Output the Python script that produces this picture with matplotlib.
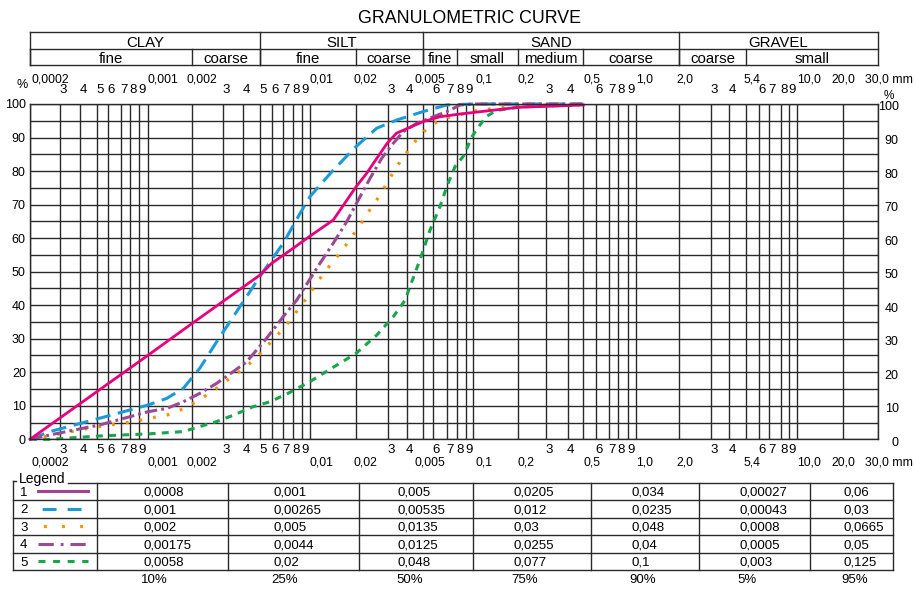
import numpy as np
import matplotlib
matplotlib.use('Agg')
import matplotlib.pyplot as plt
from matplotlib.ticker import NullLocator

plt.rcParams['font.family'] = ['Liberation Sans', 'DejaVu Sans']
plt.rcParams['lines.scale_dashes'] = False

# grain size curves: diameter (mm) vs passing (%)
d1 = [0.0002, 0.001, 0.002, 0.005, 0.006, 0.008, 0.01, 0.0142, 0.02, 0.0229, 0.0261,
      0.0298, 0.0343, 0.05, 0.0648, 0.083, 0.2, 0.5]
p1 = [0, 25, 34.6, 49, 52.5, 57, 60.6, 65.4, 75.3, 79.3, 83.8, 88.3, 91.3, 94.7, 96.2,
      97, 99, 99.7]

d2 = [0.0002, 0.000261, 0.000522, 0.001, 0.001344, 0.00174, 0.00221, 0.00277, 0.00348,
      0.00456, 0.00526, 0.007, 0.0088, 0.01, 0.0142, 0.02, 0.0261, 0.0343, 0.05, 0.07,
      0.1, 0.5]
p2 = [0, 2.3, 6.3, 10.2, 12.2, 15.2, 21.2, 29.1, 36.6, 45.5, 50, 58.5, 67.4, 72.4, 80.3,
      87.3, 92.8, 95.2, 97.7, 99.7, 100, 100]

d3 = [0.0002, 0.000259, 0.000416, 0.000522, 0.00067, 0.00085, 0.001036, 0.001344,
      0.001766, 0.00218, 0.00265, 0.00317, 0.00392, 0.00467, 0.00553, 0.00653, 0.00757,
      0.00871, 0.00991, 0.01133, 0.01331, 0.01572, 0.01827, 0.02104, 0.02371, 0.02684,
      0.0299, 0.03378, 0.03963, 0.0458, 0.055, 0.066, 0.0816, 0.1042, 0.2, 0.5]
p3 = [0, 1.0, 3.0, 3.8, 4.6, 5.3, 6.3, 7.2, 9.2, 11.7, 14.5, 17.5, 20.7, 23.9, 27.6,
      31.3, 35.1, 39.2, 43.3, 47.3, 51.5, 55.5, 59.6, 63.9, 68.2, 72.4, 76.6, 80.8, 85.3,
      89.3, 93.1, 95.5, 96.7, 98, 99.5, 100]

d4 = [0.0002, 0.000261, 0.000522, 0.001, 0.001344, 0.00174, 0.00221, 0.00277, 0.00348,
      0.00418, 0.00553, 0.007, 0.00839, 0.00978, 0.01163, 0.0142, 0.01739, 0.0206,
      0.02392, 0.02778, 0.03267, 0.03791, 0.0458, 0.06, 0.07, 0.0834, 0.1, 0.5]
p4 = [0, 1.3, 4.3, 8.2, 9.2, 11.2, 13.7, 16.7, 20.2, 23.1, 30.1, 36.6, 41.5, 47, 52.5,
      58.5, 64.9, 71.4, 77.8, 83.8, 88.3, 91.7, 94.2, 96.2, 97.7, 99.7, 100, 100]

d5 = [0.0002, 0.000261, 0.000522, 0.001, 0.00174, 0.00221, 0.00277, 0.00348, 0.00456,
      0.00584, 0.00732, 0.01, 0.0142, 0.02, 0.0261, 0.03267, 0.03906, 0.04186, 0.0481,
      0.0567, 0.0648, 0.07, 0.0782, 0.0881, 0.0967, 0.107, 0.1218, 0.1422, 0.1747,
      0.2246, 0.3427, 0.4703]
p5 = [0, 0, 1.0, 1.6, 2.3, 3.8, 5.3, 7.2, 9.7, 11.2, 13.5, 17.2, 21.5, 25.6, 31.1, 36.6,
      41.5, 45.5, 53.5, 62.4, 69.4, 75.3, 81.3, 84.8, 89.8, 92.8, 96.2, 98, 98.7, 99.2,
      99.5, 99.7]

# table values
d10 = ['0,0008', '0,001', '0,002', '0,00175', '0,0058']
d25 = ['0,001', '0,00265', '0,005', '0,0044', '0,02']
d50 = ['0,005', '0,00535', '0,0135', '0,0125', '0,048']
d75 = ['0,0205', '0,012', '0,03', '0,0255', '0,077']
d90 = ['0,034', '0,0235', '0,048', '0,04', '0,1']
d5p = ['0,00027', '0,00043', '0,0008', '0,0005', '0,003']
d95 = ['0,06', '0,03', '0,0665', '0,05', '0,125']
col_titles = ['10%', '25%', '50%', '75%', '90%', '5%', '95%']

# axis labels
num_d = [0.0002, 0.001, 0.002, 0.01, 0.02, 0.05, 0.1, 0.2, 0.5, 1, 2, 5, 10, 20, 30]
num_txt = ['0,0002', '0,001', '0,002', '0,01', '0,02', '0,005', '0,1', '0,2', '0,5',
           '1,0', '2,0', '5,4', '10,0', '20,0', '30,0 mm']
classes = [('CLAY', 0.0002, 0.005), ('SILT', 0.005, 0.05), ('SAND', 0.05, 2),
           ('GRAVEL', 2, 30)]
subclasses = [('fine', 0.0002, 0.002), ('coarse', 0.002, 0.005), ('fine', 0.005, 0.02),
              ('coarse', 0.02, 0.05), ('fine', 0.05, 0.08), ('small', 0.08, 0.2),
              ('medium', 0.2, 0.5), ('coarse', 0.5, 2), ('coarse', 2, 5),
              ('small', 5, 30)]

# hand-drawn log paper: grid diameters and where they sit (pixels)
GRID_D = [0.0002, 0.0003, 0.0004, 0.0005, 0.0006, 0.0007, 0.0008, 0.0009, 0.001,
          0.002, 0.003, 0.004, 0.005, 0.006, 0.007, 0.008, 0.009, 0.01,
          0.02, 0.03, 0.04, 0.05, 0.06, 0.07, 0.08, 0.09, 0.1,
          0.2, 0.3, 0.4, 0.5, 0.6, 0.7, 0.8, 0.9, 1,
          2, 3, 4, 5, 6, 7, 8, 9, 10, 20, 30]
GRID_PX = [30, 60.3, 80.3, 97.3, 108.3, 120.7, 130, 138.7, 147.7,
           192.3, 222.7, 243.3, 260, 271.7, 283.3, 293.3, 301.7, 310,
           356, 387.7, 406.7, 422.7, 433.3, 446.7, 456.7, 466, 473.3,
           518, 546, 567.7, 583.3, 596, 608.7, 618, 628, 636,
           679.3, 711.3, 729.3, 746, 758.7, 769.3, 781.3, 789.3, 797.3, 842.7, 877.7]
LOGD = np.log10(GRID_D)


def fwd(d):
    d = np.clip(np.asarray(d, dtype=float), 1e-12, None)
    return np.interp(np.log10(d), LOGD, GRID_PX)


def inv(p):
    return 10 ** np.interp(np.asarray(p, dtype=float), GRID_PX, LOGD)


W, H = 916, 589


def box(l, t, r, b):
    return [l / W, 1 - b / H, (r - l) / W, (b - t) / H]


LC = '#2a2a2a'
fig = plt.figure(figsize=(W / 100, H / 100), dpi=100)

ov = fig.add_axes([0, 0, 1, 1])
ov.set_xlim(0, W)
ov.set_ylim(H, 0)
ov.axis('off')

# main chart
ax = fig.add_axes(box(30, 104, 877.7, 439.3))
ax.set_xscale('function', functions=(fwd, inv))
ax.set_xlim(0.0002, 30)
ax.set_ylim(0, 100)
ax.set_xticks(GRID_D)
ax.xaxis.set_minor_locator(NullLocator())
ax.set_xticklabels([])
ax.set_yticks(np.arange(0, 101, 10))
ax.set_yticks(np.arange(5, 100, 10), minor=True)
ax.grid(True, which='both', color=LC, lw=1.0)
ax.tick_params(which='both', length=0)
ax.tick_params(axis='y', labelsize=9, pad=3)
for s in ax.spines.values():
    s.set_color(LC)
    s.set_linewidth(1.0)

ax.plot(d5, p5, color='#17a64b', lw=2.2, ls=(0, (5, 4.5)), clip_on=False)
ax.plot(d2, p2, color='#1a9bd7', lw=2.2, ls=(0, (11, 5.5)), clip_on=False)
ax.plot(d3, p3, color='#f39200', lw=2.3, ls=(0, (2, 8)), clip_on=False)
ax.plot(d4, p4, color='#9a4a94', lw=2.2, ls=(0, (9, 3, 2, 3)), clip_on=False)
ax.plot(d1, p1, color='#e6007e', lw=2.0, clip_on=False)

yt = ax.get_yaxis_transform()
for v in range(0, 101, 10):
    ax.annotate(str(v), xy=(1, v), xycoords=yt, xytext=(21, -2),
                textcoords='offset pixels', ha='right', va='center_baseline', fontsize=9)

xt = ax.get_xaxis_transform()
num_dx = [2, 0, -6, 0, -3, -8, 2, -1, 0, 0, -3, -3, 0, -11, -13]
for d, s, dx in zip(num_d, num_txt, num_dx):
    ax.annotate(s, xy=(d, 1), xycoords=xt, xytext=(dx, 24), textcoords='offset pixels',
                ha='left', va='center', fontsize=8.8)
    ax.annotate(s, xy=(d, 0), xycoords=xt, xytext=(dx, -23), textcoords='offset pixels',
                ha='left', va='center', fontsize=8.8)
for d in GRID_D:
    if any(np.isclose(d, n) for n in num_d):
        continue
    digit = str(int(round(d / 10 ** np.floor(np.log10(d) + 1e-9))))
    ax.annotate(digit, xy=(d, 1), xycoords=xt, xytext=(3, 14), textcoords='offset pixels',
                ha='center', va='center', fontsize=9.5)
    ax.annotate(digit, xy=(d, 0), xycoords=xt, xytext=(3, -11), textcoords='offset pixels',
                ha='center', va='center', fontsize=9.5)

ov.text(22, 85, '%', ha='center', va='center', fontsize=9)
ov.text(889, 96, '%', ha='center', va='center', fontsize=8.5)

# header with soil classes
hx = fig.add_axes(box(30, 32.3, 877.7, 65))
hx.set_xscale('function', functions=(fwd, inv))
hx.set_xlim(0.0002, 30)
hx.set_ylim(0, 2)
hx.axis('off')
for y in (0, 1, 2):
    hx.plot([0.0002, 30], [y, y], color=LC, lw=1, clip_on=False)
for name, lo, hi in classes:
    hx.plot([lo, lo], [0, 2], color=LC, lw=1, clip_on=False)
    xm = inv((fwd(lo) + fwd(hi)) / 2)
    hx.text(xm, 1.12, name, ha='center', va='baseline', fontsize=10.8)
hx.plot([30, 30], [0, 2], color=LC, lw=1, clip_on=False)
for name, lo, hi in subclasses:
    hx.plot([lo, lo], [0, 1], color=LC, lw=1, clip_on=False)
    xm = inv((fwd(lo) + fwd(hi)) / 2)
    hx.text(xm, 0.12, name, ha='center', va='baseline', fontsize=10.8)

fig.text(469.5 / W, 1 - 23.3 / H, 'GRANULOMETRIC CURVE', ha='center', va='baseline',
         fontsize=12.8)

# legend table
col_x = [12.7, 97.3, 228.3, 359.3, 473.3, 591, 699.3, 810.3, 892.7]
text_x = [143, 273, 398, 513, 631, 739, 843]
top, rh = 482.7, 17.5
rows_y = [top + i * rh for i in range(6)]
for i, y in enumerate(rows_y):
    if i == 0:
        ov.plot([68, col_x[-1]], [y, y], color=LC, lw=1)
        ov.plot([col_x[0], 16], [y - 1.5, y - 1.5], color=LC, lw=1)
    else:
        ov.plot([col_x[0], col_x[-1]], [y, y], color=LC, lw=1)
for x in col_x:
    y0 = rows_y[0] - 1.5 if x == col_x[0] else rows_y[0]
    ov.plot([x, x], [y0, rows_y[-1]], color=LC, lw=1)
ov.text(19, 483.5, 'Legend', ha='left', va='baseline', fontsize=10)

keys = [dict(color='#a3428f', ls='-', lw=2.2),
        dict(color='#1a9bd7', ls=(-3, (10, 8)), lw=2.2),
        dict(color='#f39200', ls=(-4, (2, 11)), lw=2.3),
        dict(color='#9a4a94', ls=(0, (11, 5, 2, 5)), lw=2.2),
        dict(color='#17a64b', ls=(0, (5, 5.5)), lw=2.2)]
table_cols = [d10, d25, d50, d75, d90, d5p, d95]
for r in range(5):
    yb = rows_y[r] + 13
    ov.text(20, yb, str(r + 1), ha='left', va='baseline', fontsize=9.5)
    ym = rows_y[r] + rh / 2
    ov.plot([38, 88], [ym, ym], **keys[r])
    for c, vals in enumerate(table_cols):
        ov.text(text_x[c], yb, vals[r], ha='left', va='baseline', fontsize=9.5)
for c, s in enumerate(col_titles):
    ov.text(text_x[c] - 2, 583, s, ha='left', va='baseline', fontsize=9.5)

fig.savefig('out.png', dpi=100)
